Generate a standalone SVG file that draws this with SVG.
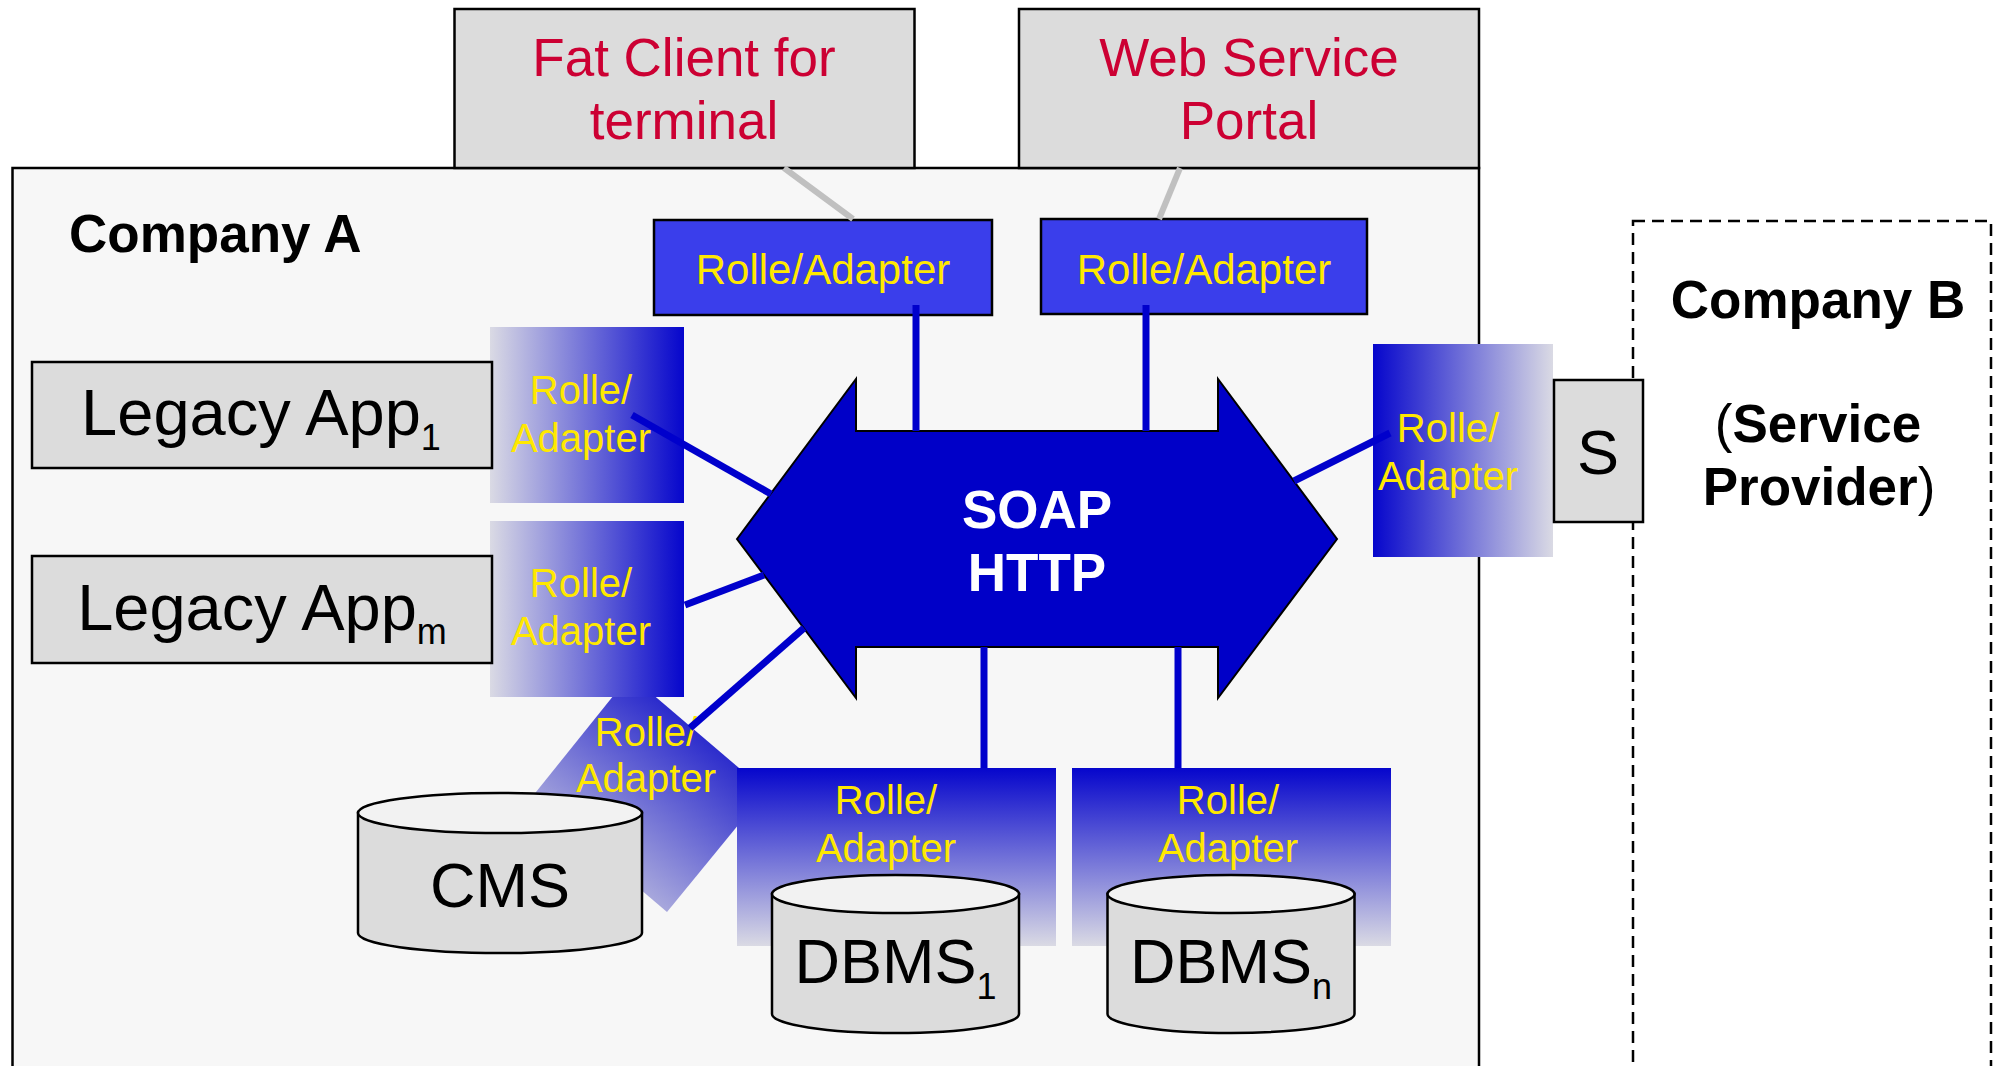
<svg xmlns="http://www.w3.org/2000/svg" width="1998" height="1066" viewBox="0 0 1998 1066">
<defs>
<linearGradient id="gLR" x1="0" y1="0" x2="1" y2="0"><stop offset="0" stop-color="#dadae4"/><stop offset="1" stop-color="#0606cc"/></linearGradient>
<linearGradient id="gRL" x1="0" y1="0" x2="1" y2="0"><stop offset="0" stop-color="#0606cc"/><stop offset="1" stop-color="#dadae4"/></linearGradient>
<linearGradient id="gTB" x1="0" y1="0" x2="0" y2="1"><stop offset="0" stop-color="#0606cc"/><stop offset="1" stop-color="#dadae4"/></linearGradient>
<linearGradient id="gDia" gradientUnits="userSpaceOnUse" x1="600" y1="855" x2="698" y2="733"><stop offset="0" stop-color="#a6a6dc"/><stop offset="1" stop-color="#2c2ccc"/></linearGradient>
<style>
text{font-family:"Liberation Sans",Arial,sans-serif}
.box{fill:#dcdcdc;stroke:#000;stroke-width:2.5}
.red{fill:#cc0033;font-size:53px;text-anchor:middle}
.ra{fill:#ffe800;font-size:40px;text-anchor:middle}
.ra1{fill:#ffe800;font-size:42px;text-anchor:middle}
.big{fill:#000;font-size:63px;text-anchor:middle}
.leg{font-size:65px}
.sub{font-size:36px}
.bold{font-weight:bold;font-size:53px;fill:#000}
.cyl{fill:#dcdcdc;stroke:#000;stroke-width:2.5}
.cyltop{fill:#f2f2f2;stroke:#000;stroke-width:2.5}
.blue{stroke:#0000cc;stroke-width:7;fill:none}
.gray{stroke:#c0c0c0;stroke-width:6;fill:none}
</style>
</defs>
<rect x="0" y="0" width="1998" height="1066" fill="#ffffff"/>

<g id="companyB">
<rect x="1633" y="221" width="358" height="870" fill="#ffffff" stroke="#000" stroke-width="2.5" stroke-dasharray="12 7"/>
<text class="bold" x="1818" y="318" text-anchor="middle">Company B</text>
<text class="bold" x="1818" y="442" text-anchor="middle"><tspan font-weight="normal">(</tspan>Service</text>
<text class="bold" x="1819" y="505" text-anchor="middle">Provider<tspan font-weight="normal">)</tspan></text>
</g>

<g id="companyA">
<rect x="12.5" y="168" width="1466.5" height="920" fill="#f7f7f7" stroke="#000" stroke-width="2.5"/>
<text class="bold" x="69" y="252">Company A</text>
</g>

<g id="fatClient">
<rect class="box" x="454.5" y="9" width="460" height="159"/>
<text class="red" x="684" y="76">Fat Client for</text>
<text class="red" x="684" y="139">terminal</text>
</g>

<g id="webPortal">
<rect class="box" x="1019" y="9" width="460" height="159"/>
<text class="red" x="1249" y="76">Web Service</text>
<text class="red" x="1249" y="139">Portal</text>
</g>

<g id="roleTop1">
<rect x="654" y="220" width="338" height="95" fill="#3a3eeb" stroke="#000" stroke-width="2.5"/>
<text class="ra1" x="823" y="284">Rolle/Adapter</text>
</g>

<g id="roleTop2">
<rect x="1041" y="219" width="326" height="95" fill="#3a3eeb" stroke="#000" stroke-width="2.5"/>
<text class="ra1" x="1204" y="284">Rolle/Adapter</text>
</g>

<g id="roleCMS">
<polygon points="630,675 766,791 667,912 532,797" fill="url(#gDia)"/>
</g>

<g id="roleLegacy1">
<rect x="490" y="327" width="194" height="176" fill="url(#gLR)"/>
<text class="ra" x="581" y="404">Rolle/</text>
<text class="ra" x="581" y="452">Adapter</text>
</g>

<g id="roleLegacyM">
<rect x="490" y="521" width="194" height="176" fill="url(#gLR)"/>
<text class="ra" x="581" y="597">Rolle/</text>
<text class="ra" x="581" y="645">Adapter</text>
</g>

<g id="legacy1">
<rect class="box" x="32" y="362" width="460" height="106"/>
<text class="big leg" x="261" y="435">Legacy App<tspan class="sub" dy="15">1</tspan></text>
</g>

<g id="legacyM">
<rect class="box" x="32" y="556" width="460" height="107"/>
<text class="big leg" x="262" y="630">Legacy App<tspan class="sub" dy="14">m</tspan></text>
</g>

<g id="roleDBMS1">
<rect x="737" y="768" width="319" height="178" fill="url(#gTB)"/>
<text class="ra" x="886" y="814">Rolle/</text>
<text class="ra" x="886" y="862">Adapter</text>
</g>

<g id="roleDBMSn">
<rect x="1072" y="768" width="319" height="178" fill="url(#gTB)"/>
<text class="ra" x="1228" y="814">Rolle/</text>
<text class="ra" x="1228" y="862">Adapter</text>
</g>

<g id="cms">
<path class="cyl" d="M358,813 L358,933 A142,20 0 0 0 642,933 L642,813 Z"/>
<ellipse class="cyltop" cx="500" cy="813" rx="142" ry="20"/>
<text class="big" x="500" y="907" font-size="62">CMS</text>
</g>
<g id="roleCMSlabel">
<text class="ra" x="646" y="746">Rolle/</text>
<text class="ra" x="646" y="792">Adapter</text>
</g>

<g id="dbms1">
<path class="cyl" d="M772,894 L772,1014 A123.5,19 0 0 0 1019,1014 L1019,894 Z"/>
<ellipse class="cyltop" cx="895.5" cy="894" rx="123.5" ry="19"/>
<text class="big" x="895.5" y="983">DBMS<tspan class="sub" dy="16">1</tspan></text>
</g>

<g id="dbmsN">
<path class="cyl" d="M1107.5,894 L1107.5,1014 A123.5,19 0 0 0 1354.5,1014 L1354.5,894 Z"/>
<ellipse class="cyltop" cx="1231" cy="894" rx="123.5" ry="19"/>
<text class="big" x="1231" y="983">DBMS<tspan class="sub" dy="16">n</tspan></text>
</g>

<g id="roleRight">
<rect x="1373" y="344" width="180" height="213" fill="url(#gRL)"/>
<text class="ra" x="1448" y="442">Rolle/</text>
<text class="ra" x="1448" y="490">Adapter</text>
</g>

<g id="serviceS">
<rect class="box" x="1554" y="380" width="89" height="142"/>
<text class="big" x="1598" y="474" font-size="62">S</text>
</g>

<g id="soapBus">
<polygon points="737,539 856,379 856,431 1218,431 1218,379 1337,539 1218,698 1218,647 856,647 856,698" fill="#0000c8" stroke="#000" stroke-width="2"/>
<text x="1037" y="528" fill="#fff" font-size="53" font-weight="bold" text-anchor="middle">SOAP</text>
<text x="1037" y="591" fill="#fff" font-size="53" font-weight="bold" text-anchor="middle">HTTP</text>
</g>

<g id="connectors">
<line class="gray" x1="784" y1="168" x2="853" y2="219"/>
<line class="gray" x1="1180" y1="168" x2="1159" y2="219"/>
<line class="blue" x1="916" y1="305" x2="916" y2="431"/>
<line class="blue" x1="1146" y1="305" x2="1146" y2="431"/>
<line class="blue" x1="632" y1="415" x2="771" y2="494"/>
<line class="blue" x1="685" y1="605" x2="764" y2="575"/>
<line class="blue" x1="690" y1="728" x2="804" y2="628"/>
<line class="blue" x1="1390" y1="433" x2="1294" y2="481"/>
<line class="blue" x1="984" y1="647" x2="984" y2="768"/>
<line class="blue" x1="1178" y1="647" x2="1178" y2="768"/>
</g>
</svg>
